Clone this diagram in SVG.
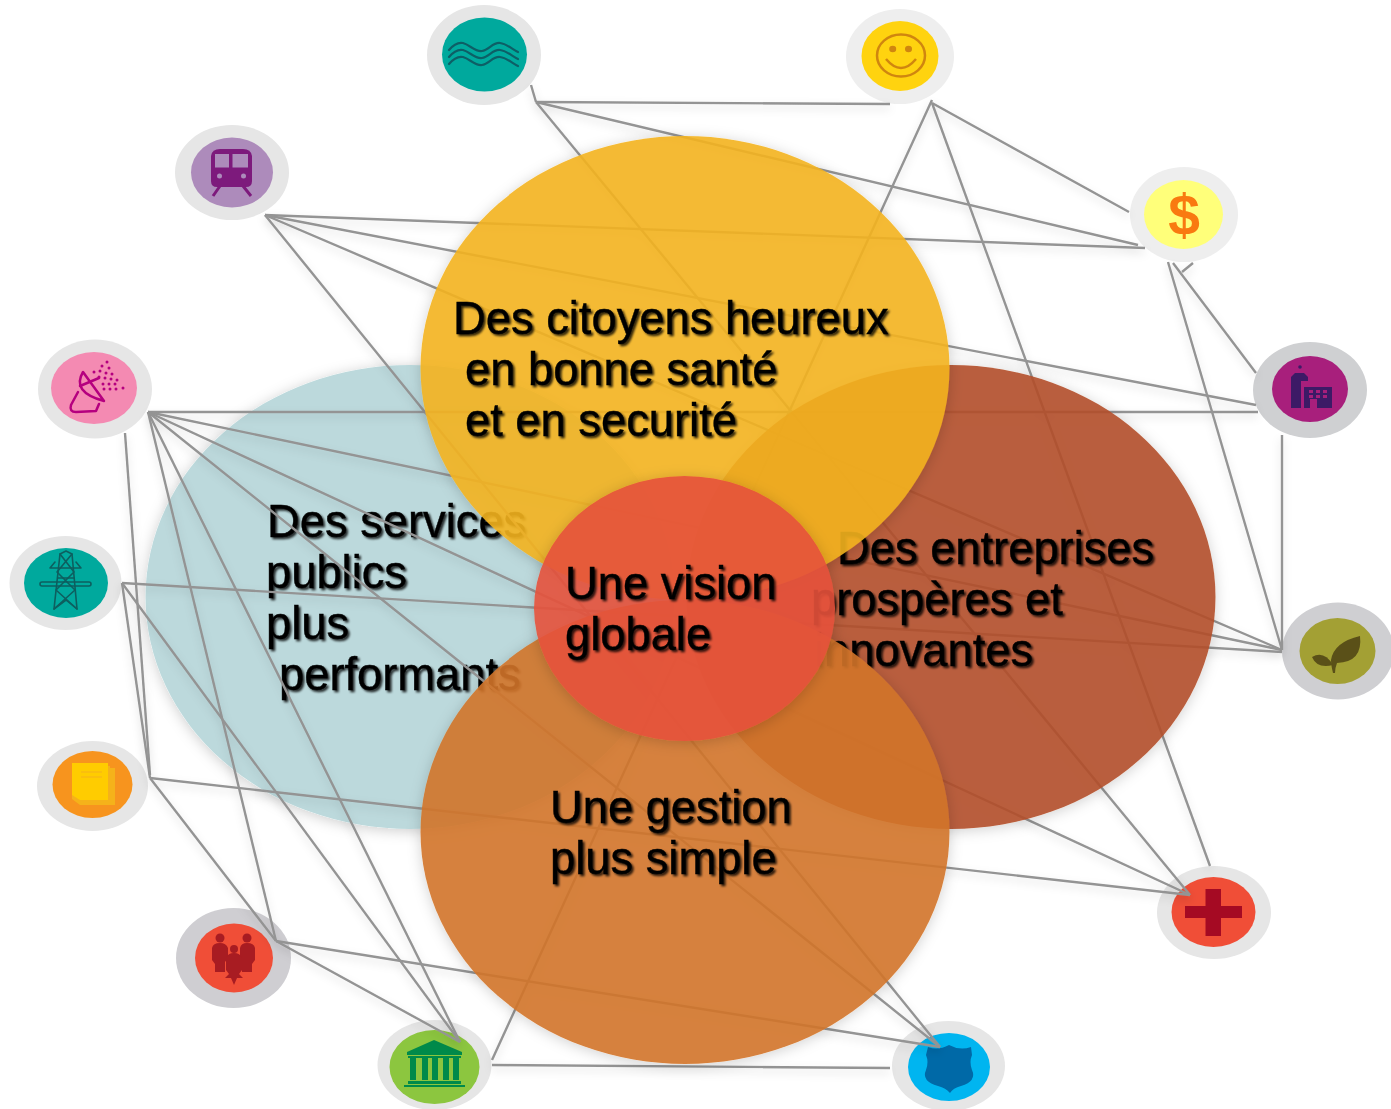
<svg xmlns="http://www.w3.org/2000/svg" width="1391" height="1109" viewBox="0 0 1391 1109">
<defs>
<filter id="ts" x="-10%" y="-20%" width="120%" height="140%"><feDropShadow dx="2" dy="2" stdDeviation="1" flood-color="#000" flood-opacity="0.8"/></filter>
<filter id="ls" x="-5%" y="-5%" width="110%" height="110%"><feDropShadow dx="0" dy="4" stdDeviation="4" flood-color="#000" flood-opacity="0.14"/></filter>
<filter id="es" x="-10%" y="-10%" width="120%" height="120%"><feGaussianBlur in="SourceAlpha" stdDeviation="7" result="b"/><feOffset in="b" dy="2" result="o"/><feFlood flood-color="#000" flood-opacity="0.2"/><feComposite in2="o" operator="in" result="s"/><feComposite in="s" in2="SourceAlpha" operator="out" result="k"/><feMerge><feMergeNode in="k"/><feMergeNode in="SourceGraphic"/></feMerge></filter>
<style>
.t{font-family:"Liberation Sans",Arial,sans-serif;font-size:45.3px;fill:#000;stroke:#000;stroke-width:0.4px;filter:url(#ts)}
.big{filter:url(#es)}
#connectors line{stroke:#949494;stroke-width:2.4}
.sh{stroke-linecap:round;stroke-linejoin:round;fill:none}
</style>
</defs>

<g id="node-water"><ellipse cx="484" cy="55" rx="57" ry="50" fill="#e6e6e6"/><ellipse cx="484.5" cy="54.5" rx="42.5" ry="37" fill="#00a99d"/>
<g class="sh" stroke="#0d5f66" stroke-width="2.200"><path d="M449,50 C454,44 458,42 463,43 C470,45 475,52 482,51 C489,50 493,42 500,43 C507,44 512,49 518,52"/><path d="M449,57 C454,51 458,49 463,50 C470,52 475,59 482,58 C489,57 493,49 500,50 C507,51 512,56 518,59"/><path d="M449,64 C454,58 458,56 463,57 C470,59 475,66 482,65 C489,64 493,56 500,57 C507,58 512,63 518,66"/></g></g>

<g id="node-train"><ellipse cx="232" cy="172.500" rx="57" ry="47.500" fill="#e6e6e6"/><ellipse cx="232" cy="172.500" rx="41" ry="35" fill="#ad8bbb"/>
<path d="M211,156 Q212,149 220,149 H243 Q251,149 252,156 V181 Q252,187 246,187 H217 Q211,187 211,181 Z" fill="#7d1a7c"/><rect x="215" y="154" width="14" height="13.500" fill="#ad8bbb"/><rect x="232.500" y="154" width="15.500" height="13.500" fill="#ad8bbb"/><circle cx="219.500" cy="176" r="2.500" fill="#ad8bbb"/><circle cx="243.500" cy="176" r="2.500" fill="#ad8bbb"/>
<path d="M220,186 L213,196 M243,186 L251,196" stroke="#7d1a7c" stroke-width="3"/></g>

<g id="node-antenna"><ellipse cx="95" cy="389" rx="57" ry="49.500" fill="#e6e6e6"/><ellipse cx="94" cy="388" rx="43" ry="36" fill="#f48ab2"/>
<g class="sh" stroke="#b5007f" stroke-width="2.500"><path d="M83,372 Q71,392 104,401 Z"/><path d="M78,392 L71,405 Q69,412 76,412 L96,411 L99,404"/><path d="M80,386 L99,378"/></g>
<g fill="#b5007f"><circle cx="107" cy="362" r="1.500"/><circle cx="102" cy="366" r="1.500"/><circle cx="109" cy="368" r="1.500"/><circle cx="94" cy="372" r="1.500"/><circle cx="100" cy="371" r="1.500"/><circle cx="106" cy="373" r="1.500"/><circle cx="112" cy="374" r="1.500"/><circle cx="99" cy="377" r="1.500"/><circle cx="105" cy="378" r="1.500"/><circle cx="111" cy="379" r="1.500"/><circle cx="117" cy="380" r="1.500"/><circle cx="103" cy="384" r="1.500"/><circle cx="109" cy="384" r="1.500"/><circle cx="115" cy="384" r="1.500"/><circle cx="104" cy="389" r="1.500"/><circle cx="110" cy="389" r="1.500"/><circle cx="116" cy="389" r="1.500"/><circle cx="123" cy="388" r="1.500"/></g></g>

<g id="node-smiley"><ellipse cx="900" cy="56.500" rx="54" ry="47.500" fill="#eeeeee"/><ellipse cx="900" cy="56" rx="38.500" ry="35" fill="#ffd30f"/>
<ellipse cx="901" cy="55.500" rx="24" ry="21" fill="none" stroke="#d0860f" stroke-width="2.500"/><ellipse cx="892.700" cy="49" rx="3.500" ry="3.200" fill="#d0860f"/><ellipse cx="908.500" cy="49" rx="3.500" ry="3.200" fill="#d0860f"/><path d="M886,59 Q901,77 916,59" fill="none" stroke="#d0860f" stroke-width="2.500"/></g>

<g id="node-dollar"><ellipse cx="1184" cy="214.500" rx="54" ry="47.500" fill="#eeeeee"/><ellipse cx="1183.500" cy="214.500" rx="39.500" ry="34.500" fill="#ffff7a"/>
<text x="1184" y="235" text-anchor="middle" style="font-family:'Liberation Sans',Arial,sans-serif;font-weight:700;font-size:57px" fill="#f97a10">$</text></g>

<g id="node-building"><ellipse cx="1310" cy="390" rx="57" ry="48" fill="#cfd0d2"/><ellipse cx="1310" cy="389" rx="38" ry="33" fill="#a81f7c"/>
<g fill="#3d1a66"><circle cx="1300" cy="367" r="1.800"/><path d="M1291,408 V377 L1295,373 H1304 L1308,377 V381 H1301 V408 Z"/><path d="M1304,408 V387 H1332 V408 H1317 V399 H1310 V408 Z"/></g>
<g fill="#a81f7c"><rect x="1309" y="390" width="4" height="3"/><rect x="1316" y="390" width="4" height="3"/><rect x="1323" y="390" width="4" height="3"/><rect x="1309" y="395" width="4" height="3"/><rect x="1316" y="395" width="4" height="3"/><rect x="1323" y="395" width="4" height="3"/></g></g>

<g id="node-plant"><ellipse cx="1338" cy="651" rx="56" ry="48.500" fill="#cfcfd2"/><ellipse cx="1337.500" cy="651" rx="38" ry="33" fill="#a3a034"/>
<path d="M1360,636 Q1363,662 1337,663 Q1335,668 1335,673 L1333,673 Q1331,665 1331,660 Q1334,642 1360,636 Z" fill="#5a5018"/><path d="M1312,657 Q1324,650 1333,665 Q1317,669 1312,657 Z" fill="#5a5018"/></g>

<g id="node-cross"><ellipse cx="1214" cy="912.500" rx="57" ry="46.500" fill="#e6e6e6"/><ellipse cx="1213.500" cy="912" rx="42" ry="35" fill="#f04e37"/>
<path d="M1205.500,889 H1221 V906 H1242 V918 H1221 V936 H1205.500 V918 H1185 V906 H1205.500 Z" fill="#a50a23"/></g>

<g id="node-shield"><ellipse cx="948.500" cy="1066" rx="56.500" ry="45" fill="#e6e6e6"/><ellipse cx="949" cy="1067" rx="41" ry="34" fill="#00b5f0"/>
<path d="M928,1047 Q938,1051 949,1045 Q960,1051 971,1047 L972,1055 Q969,1062 972,1070 Q977,1081 961,1086 Q953,1088 950,1093 Q946,1088 938,1086 Q921,1081 926,1070 Q929,1062 926,1055 Z" fill="#0069a7"/></g>

<g id="node-institution"><ellipse cx="434.500" cy="1065" rx="57" ry="45" fill="#e6e6e6"/><ellipse cx="434.500" cy="1067" rx="45" ry="37" fill="#8cc63f"/>
<g fill="#008a4a"><path d="M434,1040 L462,1052 V1055 H407 V1052 Z"/><rect x="410" y="1058" width="6" height="22"/><rect x="422" y="1058" width="6" height="22"/><rect x="432" y="1058" width="6" height="22"/><rect x="443" y="1058" width="6" height="22"/><rect x="453" y="1058" width="6" height="22"/><rect x="408" y="1056" width="53" height="2"/><rect x="408" y="1081" width="53" height="3"/><rect x="404" y="1085" width="61" height="2"/></g></g>

<g id="node-family"><ellipse cx="233.500" cy="958" rx="57.500" ry="50" fill="#cfced2"/><ellipse cx="234" cy="958" rx="39" ry="34.500" fill="#f04e37"/>
<g fill="#a81c22"><circle cx="220" cy="938" r="4.500"/><circle cx="247" cy="938" r="4.500"/><circle cx="234" cy="949" r="4"/><path d="M212,948 Q213,943 220,943 Q226,943 228,948 V958 L225,962 V972 H215 V964 L212,960 Z"/><path d="M240,948 Q241,943 247,943 Q254,943 255,948 V960 L252,964 V972 H242 V962 L240,958 Z"/><path d="M226,958 Q228,953 234,953 Q240,953 242,958 V970 L239,974 L243,978 H237 L234,985 L231,978 H225 L229,974 L226,970 Z"/></g></g>

<g id="node-document"><ellipse cx="92.500" cy="786" rx="55.500" ry="45" fill="#e6e6e6"/><ellipse cx="92.500" cy="784.500" rx="40" ry="33.500" fill="#f7941e"/>
<path d="M72,766 H110 V768 H115 V805 H80 L72,799 Z" fill="#f5b21a"/><path d="M72,763 H108 V800 H80 L72,795 Z" fill="#ffcc00"/><path d="M81,772 H102 M81,777 H102" stroke="#f5b21a" stroke-width="1"/></g>

<g id="node-pylon"><ellipse cx="65.500" cy="583" rx="56" ry="47" fill="#e6e6e6"/><ellipse cx="66" cy="583" rx="42" ry="35" fill="#00a99d"/>
<g class="sh" stroke="#0d5f5f" stroke-width="1.600"><path d="M60,554 L66,551 L72,554 L77,609 L66,600 L54,609 Z"/><path d="M60,554 L74,572 L56,590 L77,609 M72,554 L57,572 L75,590 L54,609"/><path d="M50,568 H81 L76,562 M50,568 L55,562"/><rect x="40" y="582" width="51" height="4" rx="2"/><path d="M58,578 H74"/></g></g>

<g id="circle-services" class="big"><ellipse cx="410" cy="597" rx="264.500" ry="232" fill="#bcd9dc"/></g>
<g id="text-services"><text class="t" x="267" y="537">Des services</text><text class="t" x="266" y="588">publics</text><text class="t" x="266" y="639">plus</text><text class="t" x="279" y="690">performants</text></g>

<g id="connectors" filter="url(#ls)">
<line x1="531" y1="85" x2="536" y2="102"/><line x1="536" y1="102" x2="890" y2="104"/><line x1="536" y1="102" x2="1138" y2="245"/><line x1="536" y1="102" x2="1190" y2="895"/>
<line x1="265" y1="215" x2="1145" y2="248"/><line x1="265" y1="215" x2="1256" y2="405"/><line x1="265" y1="215" x2="1282" y2="650"/><line x1="265" y1="215" x2="940" y2="1047"/>
<line x1="148" y1="412" x2="1258" y2="412"/><line x1="148" y1="412" x2="1282" y2="650"/><line x1="148" y1="412" x2="1190" y2="895"/><line x1="148" y1="412" x2="940" y2="1047"/><line x1="148" y1="412" x2="460" y2="1042"/><line x1="148" y1="412" x2="276" y2="941"/>
<line x1="125" y1="433" x2="150" y2="775"/>
<line x1="122" y1="583" x2="1282" y2="652"/><line x1="122" y1="583" x2="150" y2="778"/><line x1="122" y1="583" x2="460" y2="1042"/>
<line x1="150" y1="778" x2="1190" y2="895"/><line x1="150" y1="778" x2="276" y2="941"/>
<line x1="276" y1="941" x2="460" y2="1042"/><line x1="276" y1="941" x2="940" y2="1047"/>
<line x1="492" y1="1060" x2="932" y2="100"/><line x1="492" y1="1065" x2="890" y2="1068"/>
<line x1="932" y1="103" x2="1129" y2="212"/><line x1="932" y1="103" x2="1210" y2="866"/>
<line x1="1173" y1="263" x2="1256" y2="373"/><line x1="1168" y1="262" x2="1282" y2="650"/><line x1="1193" y1="263" x2="1182" y2="272"/>
<line x1="1282" y1="435" x2="1282" y2="650"/>
</g>

<g id="circle-entreprises" class="big"><ellipse cx="951" cy="597" rx="264.500" ry="232" fill="#b14e28" fill-opacity="0.9"/></g>
<g id="text-entreprises"><text class="t" x="837" y="564">Des entreprises</text><text class="t" x="811" y="615">prospères et</text><text class="t" x="814" y="666">innovantes</text></g>

<g id="circle-citoyens" class="big"><ellipse cx="685" cy="368" rx="264.500" ry="232" fill="#f3b320" fill-opacity="0.9"/></g>
<g id="text-citoyens"><text class="t" x="453" y="334">Des citoyens heureux</text><text class="t" x="465" y="385">en bonne santé</text><text class="t" x="465" y="436">et en securité</text></g>

<g id="circle-gestion" class="big"><ellipse cx="685" cy="832" rx="264.500" ry="232" fill="#d17429" fill-opacity="0.9"/></g>
<g id="text-gestion"><text class="t" x="550" y="823">Une gestion</text><text class="t" x="550" y="874">plus simple</text></g>

<g id="circle-vision" class="big"><ellipse cx="684.500" cy="608.500" rx="150.500" ry="132.500" fill="#e5523b" fill-opacity="0.9"/></g>
<g id="text-vision"><text class="t" x="565" y="599">Une vision</text><text class="t" x="565" y="650">globale</text></g>
</svg>
